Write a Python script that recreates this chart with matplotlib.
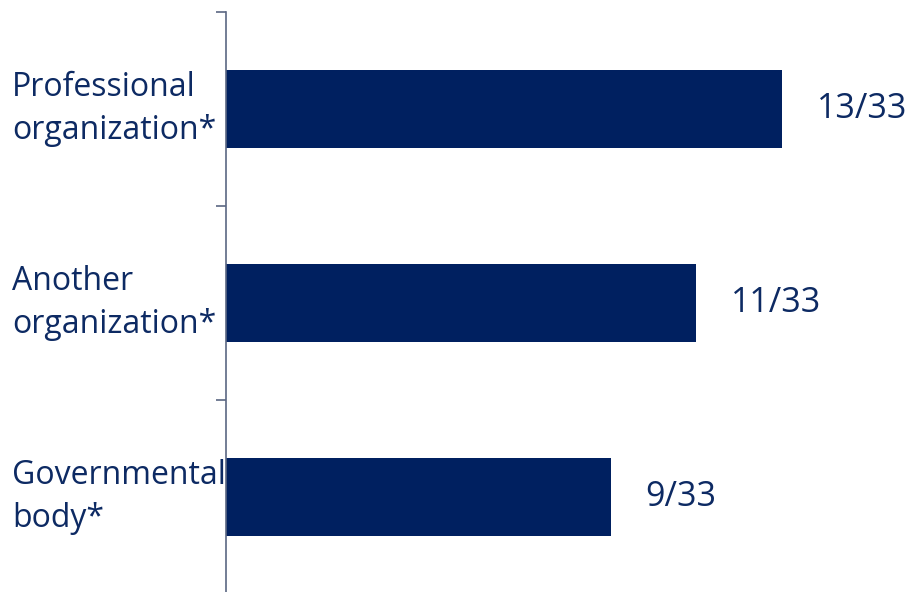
import matplotlib
matplotlib.use("Agg")
import matplotlib.pyplot as plt
from matplotlib.transforms import blended_transform_factory

categories = ["Professional\norganization*", "Another\norganization*", "Governmental\nbody*"]
values = [13, 11, 9]
total = 33
value_labels = [f"{v}/{total}" for v in values]

bar_color = "#002060"
text_color = "#0D2A63"
axis_color = "#5B6783"
FONT = "Open Sans"

W, H = 908, 592
fig = plt.figure(figsize=(W / 100, H / 100), dpi=100)
ax = fig.add_axes([226 / W, -0.004, 1 - 226 / W, 1 - 12 / H + 0.004])

pos = list(range(len(categories)))[::-1]
ax.barh(pos, values, height=0.4, color=bar_color)
ax.set_xlim(0, 15.95)
ax.set_ylim(-0.5, len(categories) - 0.5)

for s in ["top", "right", "bottom"]:
    ax.spines[s].set_visible(False)
ax.spines["left"].set_color(axis_color)
ax.spines["left"].set_linewidth(1.2)
ax.set_xticks([])
ax.set_yticks([])
ax.set_yticks([p + 0.5 for p in pos] + [-0.5], minor=True)
ax.tick_params(axis="y", which="minor", length=7.5, width=1.2, color=axis_color,
               labelleft=False)

tr = blended_transform_factory(fig.transFigure, ax.transData)
for p, lab in zip(pos, categories):
    ax.text(12 / W, p, lab, transform=tr, ha="left", va="center", fontsize=23,
            family=FONT, color=text_color, linespacing=1.4)

for p, v, lab in zip(pos, values, value_labels):
    ax.annotate(lab, (v, p), xytext=(25, 0), textcoords="offset points",
                ha="left", va="center", fontsize=24.5, family=FONT, color=text_color)

fig.savefig("out.png", dpi=100)
